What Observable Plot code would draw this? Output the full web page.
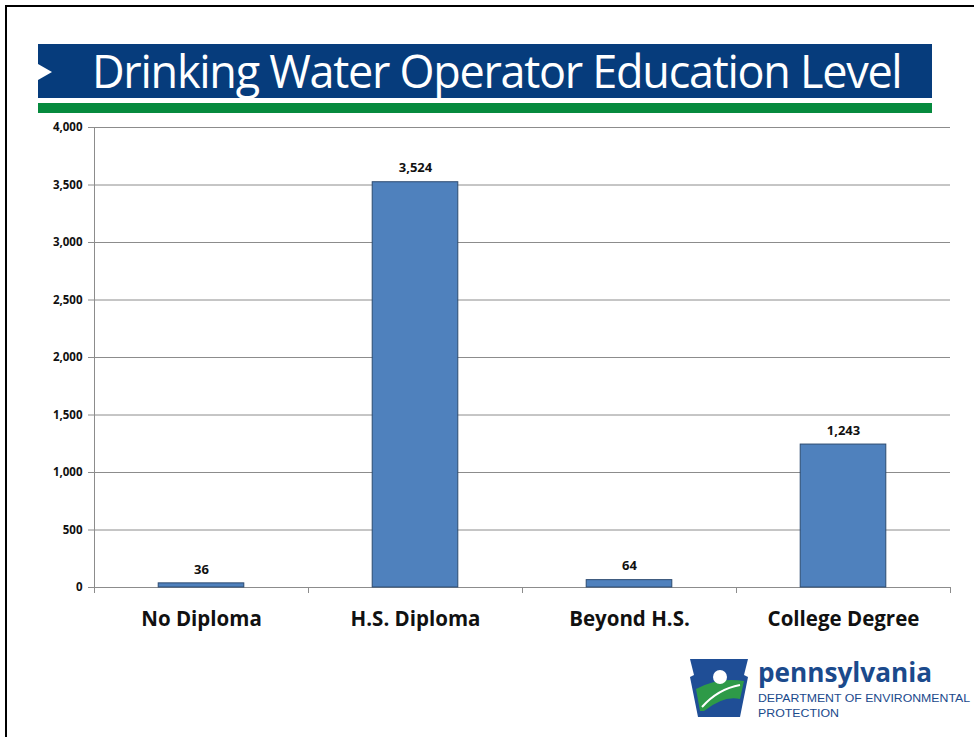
<!DOCTYPE html>
<html>
<head>
<meta charset="utf-8">
<script src="https://cdn.jsdelivr.net/npm/d3@7"></script>
<script src="https://cdn.jsdelivr.net/npm/@observablehq/plot@0.6"></script>
<style>
  html, body { margin: 0; padding: 0; background: #fff; }
  body { width: 974px; height: 737px; overflow: hidden; position: relative; font-family: "Open Sans", "Liberation Sans", sans-serif; }
  #frame { position: absolute; left: 5px; top: 5px; width: 1100px; height: 800px; border: 2px solid #000; box-sizing: border-box; }
  #banner { position: absolute; left: 38px; top: 44px; width: 894px; height: 54px; background: #063c7c; }
  #banner .chev { position: absolute; left: 0; top: 20px; width: 0; height: 0; border-top: 8px solid transparent; border-bottom: 8px solid transparent; border-left: 14px solid #fff; }
  #banner .title { position: absolute; left: 54px; top: 3px; color: #fff; font-family: "Open Sans", sans-serif; font-size: 45px; line-height: 48px; white-space: nowrap; letter-spacing: -1.28px; }
  #green { position: absolute; left: 38px; top: 103px; width: 894px; height: 10px; background: #068a3e; }
  #chart { position: absolute; left: 0; top: 117px; }
  #logo { position: absolute; left: 688px; top: 655px; }
</style>
</head>
<body>
<div id="frame"></div>
<div id="banner"><div class="chev"></div><div class="title">Drinking Water Operator Education Level</div></div>
<div id="green"></div>
<div id="chart"></div>
<div id="logo">
  <svg width="286" height="66" viewBox="0 0 286 66">
    <path d="M2,4 L60,4 L56,20 L60,22 L52,62 L10,62 L2,22 L6,20 Z" fill="#1f4e96"/>
    <path d="M8,34 Q30,22 56,26 L52,44 Q36,40 16,56 L12,56 Z" fill="#2e9a48"/>
    <path d="M14,52 Q30,34 52,30" stroke="#fff" stroke-width="2" fill="none"/>
    <circle cx="32" cy="22" r="7" fill="#fff"/>
    <text x="70" y="27" font-family="Open Sans, sans-serif" font-weight="bold" font-size="26" fill="#1b4a8c" textLength="174" lengthAdjust="spacingAndGlyphs">pennsylvania</text>
    <text x="70" y="47" font-family="Liberation Sans, sans-serif" font-size="11.5" fill="#1b4a8c" textLength="212" lengthAdjust="spacingAndGlyphs">DEPARTMENT OF ENVIRONMENTAL</text>
    <text x="70" y="62" font-family="Liberation Sans, sans-serif" font-size="11.5" fill="#1b4a8c" textLength="81" lengthAdjust="spacingAndGlyphs">PROTECTION</text>
  </svg>
</div>
<script>
const categories = ["No Diploma", "H.S. Diploma", "Beyond H.S.", "College Degree"];
const counts = [36, 3524, 64, 1243];
const yTicks = [0, 500, 1000, 1500, 2000, 2500, 3000, 3500, 4000];

const data = categories.map((c, i) => ({category: c, value: counts[i], i}));
const fmt = d3.format(",");

const chart = Plot.plot({
  width: 974,
  height: 520,
  marginLeft: 94,
  marginRight: 24,
  marginTop: 10,
  marginBottom: 50,
  style: {fontFamily: "'Open Sans', sans-serif", background: "transparent"},
  x: {domain: [0, categories.length], axis: null},
  y: {domain: [0, 4000], axis: null},
  marks: [
    Plot.gridY(yTicks, {stroke: "#8c8c8c", strokeOpacity: 1, strokeWidth: 1}),
    Plot.ruleX([0], {stroke: "#8c8c8c"}),
    Plot.ruleY([0], {stroke: "#8c8c8c"}),
    Plot.axisY({ticks: yTicks, tickFormat: fmt, tickSize: 6, tickPadding: 6, stroke: "#8c8c8c", fontSize: 11.5, fontWeight: "bold", fill: "#111", label: null}),
    Plot.axisX({ticks: d3.range(categories.length + 1), tickFormat: () => "", tickSize: 6, stroke: "#8c8c8c", label: null}),
    Plot.axisX({ticks: categories.map((c, i) => i + 0.5), tickFormat: (d) => categories[Math.floor(d)], tickSize: 0, tickPadding: 24, fontSize: 20.5, fontWeight: "bold", fill: "#111", label: null}),
    Plot.rectY(data, {x1: d => d.i + 0.3, x2: d => d.i + 0.7, y: "value", fill: "#4f81bd", stroke: "#2c4a70", strokeWidth: 1}),
    Plot.text(data, {x: d => d.i + 0.5, y: "value", text: d => fmt(d.value), dy: -14, fontSize: 13, fontWeight: "bold", fill: "#111"})
  ]
});
document.getElementById("chart").appendChild(chart);
</script>
</body>
</html>
